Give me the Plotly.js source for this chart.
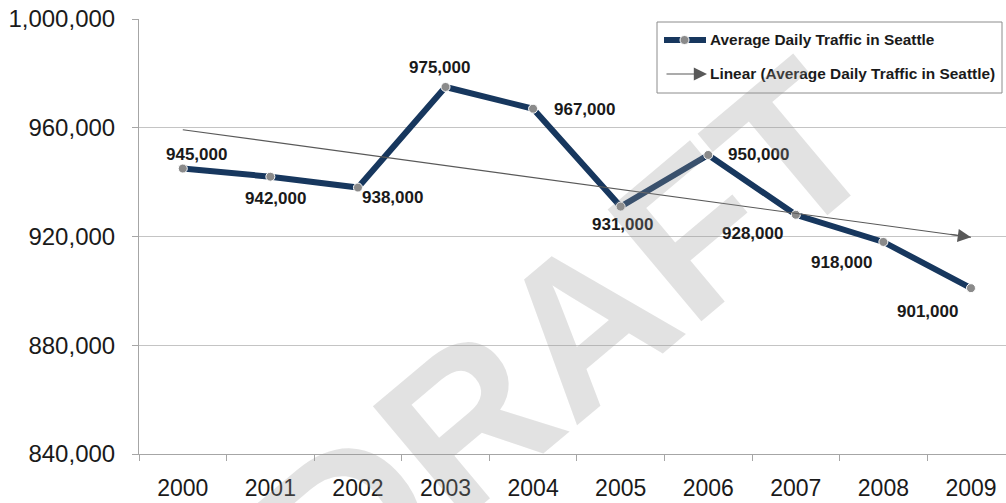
<!DOCTYPE html>
<html>
<head>
<meta charset="utf-8">
<script src="https://cdn.plot.ly/plotly-3.0.1.min.js"></script>
<style>html,body{margin:0;padding:0;background:#fff;}#chart{width:1006px;height:503px;}</style>
</head>
<body>
<div id="chart"></div>
<script>
// ---- data ----
const years = ['2000','2001','2002','2003','2004','2005','2006','2007','2008','2009'];
const traffic = [945000, 942000, 938000, 975000, 967000, 931000, 950000, 928000, 918000, 901000];
const yTicks = [840000, 880000, 920000, 960000, 1000000];
const seriesName = 'Average Daily Traffic in Seattle';
const trendName = 'Linear (Average Daily Traffic in Seattle)';
const watermark = 'DRAFT';

// label offsets (px) for data labels – style only
const labelShift = [[14,14],[5,-22],[35,-10],[-6,19],[51,-1],[2,-18],[50,0],[-43,-19],[-42,-21],[-43,-23]];

// ---- linear trend (least squares, as Excel does) ----
const n = traffic.length;
const xs = traffic.map((_, i) => i);
const mx = xs.reduce((a,b)=>a+b,0)/n;
const my = traffic.reduce((a,b)=>a+b,0)/n;
let sxy = 0, sxx = 0;
for (let i=0;i<n;i++){ sxy += (xs[i]-mx)*(traffic[i]-my); sxx += (xs[i]-mx)*(xs[i]-mx); }
const slope = sxy/sxx, icpt = my - slope*mx;
const trend = x => icpt + slope*x;

// ---- geometry helpers ----
const W = 1006, H = 503, ML = 139, MR = 0, MT = 19, MB = 49;
const PW = W-ML-MR, PH = H-MT-MB;
const px = x => (x-ML)/PW;
const py = y => (H-MB-y)/PH;

const navy = '#17375E';
const markerGray = '#8a8a8a';
const trendGray = '#595959';
const labelFont = {family:'Liberation Sans, Arial, sans-serif', size:17, color:'#1a1a1a', weight:'bold'};
const legendFont = {family:'Liberation Sans Narrow, Arial Narrow, Liberation Sans, sans-serif', size:15.4, color:'#1a1a1a', weight:'bold'};

const traces = [
  {x: years, y: traffic, type:'scatter', mode:'lines+markers', name: seriesName,
   line:{color:navy, width:6}, marker:{size:9, color:markerGray, line:{color:'#ffffff', width:1}},
   hoverinfo:'x+y', showlegend:false},
  {x: [years[0], years[n-1]], y: [trend(0), trend(n-1)], type:'scatter', mode:'lines', name: trendName,
   line:{color:trendGray, width:1.2}, hoverinfo:'skip', showlegend:false}
];

const annotations = [];
traffic.forEach((v,i) => {
  annotations.push({x: i, y: v, xref:'x', yref:'y', text: v.toLocaleString('en-US'),
    xanchor:'center', yanchor:'middle',
    showarrow:false, xshift: labelShift[i][0], yshift: labelShift[i][1], font: labelFont});
});
// trend arrowhead
annotations.push({x: n-1, y: trend(n-1), xref:'x', yref:'y', axref:'x', ayref:'y',
  ax: n-1.25, ay: trend(n-1.25), text:'', showarrow:true, arrowhead:2, arrowsize:2.2, arrowwidth:1.2,
  arrowcolor: trendGray});
// legend texts
annotations.push({x: px(708), y: py(40), xref:'paper', yref:'paper', xanchor:'left', yanchor:'middle',
  text: seriesName, showarrow:false, font: legendFont});
annotations.push({x: px(708), y: py(74), xref:'paper', yref:'paper', xanchor:'left', yanchor:'middle',
  text: trendName, showarrow:false, font: legendFont});
// legend arrow sample
annotations.push({x: px(707), y: py(74), xref:'paper', yref:'paper', ax: -42, ay: 0,
  text:'', showarrow:true, arrowhead:2, arrowsize:2.2, arrowwidth:1.2, arrowcolor: trendGray});
// watermark
annotations.push({x: px(566), y: py(338), xref:'paper', yref:'paper', xanchor:'center', yanchor:'middle',
  text: watermark, showarrow:false,
  textangle:-40, font:{family:'Liberation Sans, Arial, sans-serif', size:212, weight:'bold', color:'rgba(150,150,150,0.28)'}});

const shapes = [
  {type:'rect', xref:'paper', yref:'paper', x0: px(657), x1: px(1002), y0: py(22), y1: py(93),
   line:{color:'#8c8c8c', width:1}, fillcolor:'#ffffff', layer:'above'},
  {type:'line', xref:'paper', yref:'paper', x0: px(664), x1: px(706), y0: py(40), y1: py(40),
   line:{color:navy, width:6}, layer:'above'},
  {type:'circle', xref:'paper', yref:'paper', x0: px(680), x1: px(689), y0: py(35.5), y1: py(44.5),
   line:{color:'#ffffff', width:1}, fillcolor: markerGray, layer:'above'}
];

const layout = {
  width: W, height: H,
  margin: {l: ML, r: MR, t: MT, b: MB, pad: 0},
  paper_bgcolor:'#ffffff', plot_bgcolor:'#ffffff',
  showlegend:false,
  xaxis: {type:'category', categoryarray: years, categoryorder:'array', range:[-0.5, 9.4],
    showgrid:false, showline:true, linecolor:'#a6a6a6', linewidth:1,
    ticks:'outside', ticklen:6, tickcolor:'#a6a6a6', tickson:'boundaries',
    tickfont:{family:'Liberation Sans, Arial, sans-serif', size:23, color:'#1a1a1a'},
    ticklabelstandoff: 13, fixedrange:true},
  yaxis: {range:[840000, 1000000], tickvals: yTicks, tickformat:',d',
    showgrid:true, gridcolor:'#c4c4c4', gridwidth:1, zeroline:false,
    showline:true, linecolor:'#a6a6a6', linewidth:1,
    ticks:'outside', ticklen:6, tickcolor:'#a6a6a6',
    tickfont:{family:'Liberation Sans, Arial, sans-serif', size:24, color:'#1a1a1a'},
    ticklabelstandoff: 12, fixedrange:true},
  annotations: annotations,
  shapes: shapes
};

Plotly.newPlot('chart', traces, layout, {displayModeBar:false, staticPlot:true});
</script>
</body>
</html>
